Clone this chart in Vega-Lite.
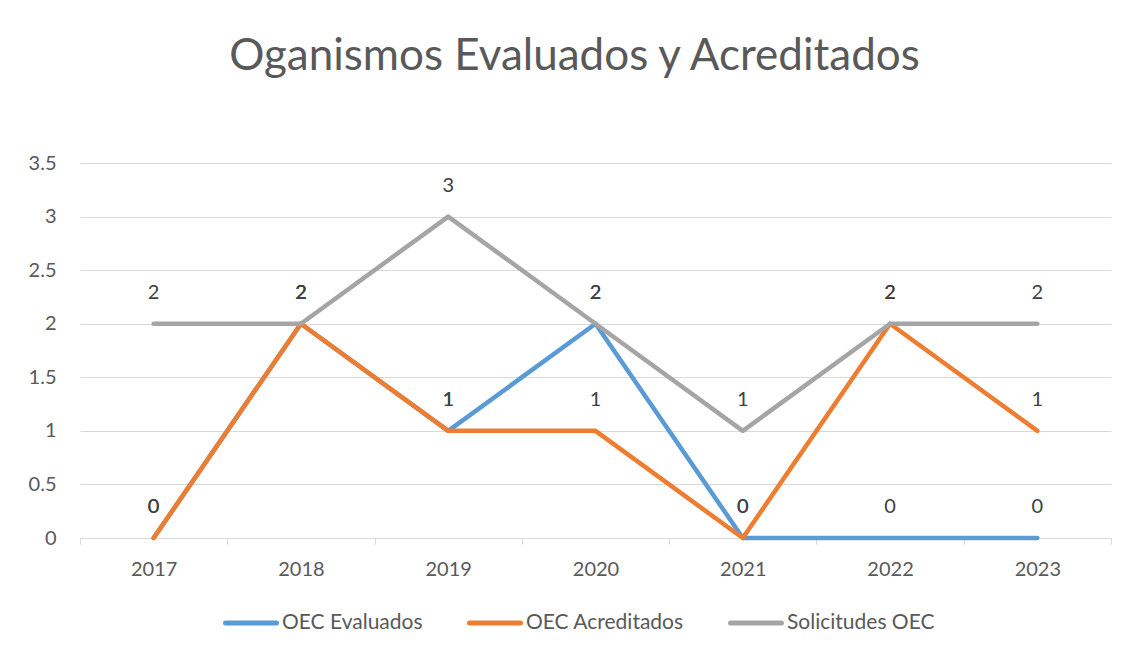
{
  "$schema": "https://vega.github.io/schema/vega-lite/v6.json",
  "width": 1031,
  "height": 375,
  "autosize": "none",
  "padding": {"left": 80, "top": 163, "right": 22, "bottom": 120},
  "background": "white",
  "title": {
    "text": "Oganismos Evaluados y Acreditados",
    "font": "Lato",
    "fontSize": 44,
    "fontWeight": "normal",
    "color": "#595959",
    "anchor": "middle",
    "dx": -21,
    "offset": 74
  },
  "config": {
    "font": "Lato",
    "view": {"stroke": null}
  },
  "data": {
    "values": [
      {"year": "2017", "series": "OEC Evaluados", "value": 0},
      {"year": "2018", "series": "OEC Evaluados", "value": 2},
      {"year": "2019", "series": "OEC Evaluados", "value": 1},
      {"year": "2020", "series": "OEC Evaluados", "value": 2},
      {"year": "2021", "series": "OEC Evaluados", "value": 0},
      {"year": "2022", "series": "OEC Evaluados", "value": 0},
      {"year": "2023", "series": "OEC Evaluados", "value": 0},
      {"year": "2017", "series": "OEC Acreditados", "value": 0},
      {"year": "2018", "series": "OEC Acreditados", "value": 2},
      {"year": "2019", "series": "OEC Acreditados", "value": 1},
      {"year": "2020", "series": "OEC Acreditados", "value": 1},
      {"year": "2021", "series": "OEC Acreditados", "value": 0},
      {"year": "2022", "series": "OEC Acreditados", "value": 2},
      {"year": "2023", "series": "OEC Acreditados", "value": 1},
      {"year": "2017", "series": "Solicitudes OEC", "value": 2},
      {"year": "2018", "series": "Solicitudes OEC", "value": 2},
      {"year": "2019", "series": "Solicitudes OEC", "value": 3},
      {"year": "2020", "series": "Solicitudes OEC", "value": 2},
      {"year": "2021", "series": "Solicitudes OEC", "value": 1},
      {"year": "2022", "series": "Solicitudes OEC", "value": 2},
      {"year": "2023", "series": "Solicitudes OEC", "value": 2}
    ]
  },
  "encoding": {
    "x": {
      "field": "year",
      "type": "ordinal",
      "scale": {"type": "band", "paddingInner": 0, "paddingOuter": 0},
      "axis": {
        "title": null,
        "labelAngle": 0,
        "labelFontSize": 20,
        "labelColor": "#595959",
        "labelPadding": 15,
        "domainColor": "#D9D9D9",
        "domainWidth": 1,
        "tickColor": "#D9D9D9",
        "tickSize": 6,
        "tickBand": "extent",
        "grid": false
      }
    },
    "y": {
      "field": "value",
      "type": "quantitative",
      "scale": {"domain": [0, 3.5], "nice": false},
      "axis": {
        "title": null,
        "values": [0, 0.5, 1, 1.5, 2, 2.5, 3, 3.5],
        "format": ".1~f",
        "labelFontSize": 20,
        "labelColor": "#595959",
        "labelPadding": 24,
        "domain": false,
        "ticks": false,
        "gridColor": "#D9D9D9",
        "gridWidth": 1
      }
    }
  },
  "layer": [
    {
      "mark": {"type": "line", "strokeWidth": 4.5, "strokeCap": "round", "strokeJoin": "round"},
      "encoding": {
        "color": {
          "field": "series",
          "type": "nominal",
          "sort": ["OEC Evaluados", "OEC Acreditados", "Solicitudes OEC"],
          "scale": {
            "domain": ["OEC Evaluados", "OEC Acreditados", "Solicitudes OEC"],
            "range": ["#5B9BD5", "#ED7D31", "#A5A5A5"]
          },
          "legend": {
            "title": null,
            "orient": "none",
            "direction": "horizontal",
            "legendX": 143,
            "legendY": 432,
            "labelFontSize": 21,
            "labelColor": "#595959",
            "labelOffset": 3,
            "symbolType": "stroke",
            "symbolSize": 2600,
            "symbolStrokeWidth": 5,
            "columnPadding": 36,
            "encode": {"symbols": {"update": {"strokeCap": {"value": "round"}}}}
          }
        }
      }
    },
    {
      "mark": {"type": "text", "dy": -31, "fontSize": 20, "color": "#404040"},
      "encoding": {
        "text": {"field": "value", "type": "quantitative"},
        "detail": {"field": "series"}
      }
    }
  ]
}
